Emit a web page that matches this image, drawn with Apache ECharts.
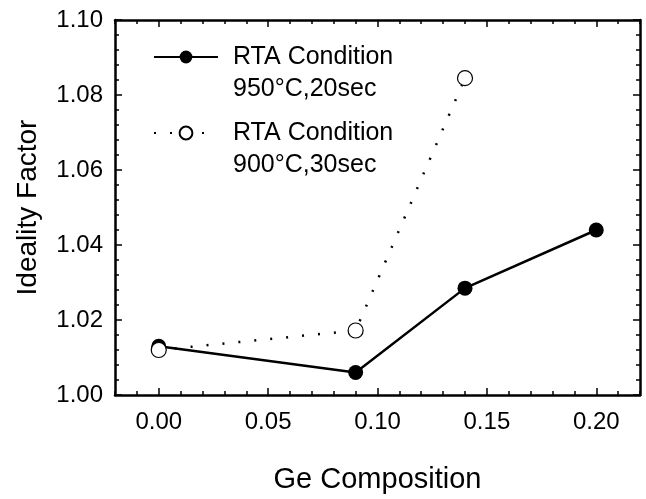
<!DOCTYPE html>
<html lang="en">
<head>
    <meta charset="UTF-8">
    <title>Ideality Factor</title>
    <script type="text/javascript" src="https://cdn.jsdelivr.net/npm/echarts@6/dist/echarts.min.js"></script>
</head>
<body style="margin:0">
<div id="chart" style="width: 646px;height: 499px"></div>
</body>
<script type="text/javascript">
    // data
    var geComp950 = [0, 0.09, 0.14, 0.20];
    var ideality950 = [1.013, 1.006, 1.0285, 1.044];
    var geComp900 = [0, 0.09, 0.14];
    var ideality900 = [1.012, 1.0172, 1.0845];
    var xMajorTicks = [0, 0.05, 0.10, 0.15, 0.20];
    var seriesNames = ['RTA Condition\n950°C,20sec', 'RTA Condition\n900°C,30sec'];

    var font = 'Liberation Sans, Arial, sans-serif';

    function pairs(xs, ys) {
        var out = [];
        for (var i = 0; i < xs.length; i++) out.push([xs[i], ys[i]]);
        return out;
    }

    // x axes: one for major ticks + labels, one for minor ticks (bottom and top)
    function xMajor(pos, withLabel) {
        return {
            type: 'value', position: pos, min: -0.02, max: 0.22,
            axisLine: {show: true, onZero: false, lineStyle: {color: '#000', width: 2.5}},
            axisTick: {show: true, inside: true, length: 7, customValues: xMajorTicks,
                lineStyle: {color: '#000', width: 1.5}},
            axisLabel: withLabel ? {
                show: true, customValues: xMajorTicks, margin: 15,
                fontSize: 24, fontFamily: font, color: '#000',
                formatter: function (v) { return v.toFixed(2); }
            } : {show: false},
            splitLine: {show: false},
            name: withLabel ? 'Ge Composition' : '',
            nameLocation: 'middle', nameGap: 70,
            nameTextStyle: {fontSize: 29, fontFamily: font, color: '#000'}
        };
    }
    function xMinor(pos) {
        return {
            type: 'value', position: pos, min: -0.02, max: 0.22, interval: 0.01,
            axisLine: {show: false},
            axisTick: {show: true, inside: true, length: 4, lineStyle: {color: '#000', width: 1.5}},
            axisLabel: {show: false},
            splitLine: {show: false}
        };
    }
    function yAxis(pos, withLabel) {
        return {
            type: 'value', position: pos, min: 1.00, max: 1.10, interval: 0.02,
            axisLine: {show: true, onZero: false, lineStyle: {color: '#000', width: 2.5}},
            axisTick: {show: true, inside: true, length: 7, lineStyle: {color: '#000', width: 1.5}},
            minorTick: {show: true, splitNumber: 5, length: 4, lineStyle: {color: '#000', width: 1.5}},
            axisLabel: withLabel ? {
                show: true, margin: 12, fontSize: 24, fontFamily: font, color: '#000',
                formatter: function (v) { return v.toFixed(2); }
            } : {show: false},
            splitLine: {show: false},
            name: withLabel ? 'Ideality Factor' : '',
            nameLocation: 'middle', nameGap: 73,
            nameTextStyle: {fontSize: 28, fontFamily: font, color: '#000'}
        };
    }

    var myChart = echarts.init(document.getElementById('chart'));
    var option = {
        backgroundColor: '#fff',
        animation: false,
        grid: {left: 115, right: 6, top: 20, bottom: 90},
        legend: {
            orient: 'vertical', left: 148, top: 4,
            itemWidth: 64, itemHeight: 16, itemGap: -20,
            data: seriesNames,
            // empty first line so the symbol sits level with "RTA Condition"
            formatter: function (name) { return '\n' + name; },
            textStyle: {fontSize: 25, lineHeight: 32, fontFamily: font, color: '#000',
                padding: [0, 0, 0, 10]}
        },
        xAxis: [xMajor('bottom', true), xMinor('bottom'), xMajor('top', false), xMinor('top')],
        yAxis: [yAxis('left', true), yAxis('right', false)],
        series: [
            {
                name: seriesNames[0], type: 'line', xAxisIndex: 0, yAxisIndex: 0,
                data: pairs(geComp950, ideality950),
                symbol: 'circle', symbolSize: 15,
                lineStyle: {color: '#000', width: 2.5},
                itemStyle: {color: '#000', borderColor: '#000', borderWidth: 0}
            },
            {
                name: seriesNames[1], type: 'line', xAxisIndex: 0, yAxisIndex: 0,
                data: pairs(geComp900, ideality900),
                symbol: 'circle', symbolSize: 15,
                lineStyle: {color: '#000', width: 2.5, type: [2, 14]},
                itemStyle: {color: '#fff', borderColor: '#000', borderWidth: 1.2}
            }
        ]
    };
    myChart.setOption(option);
</script>
</html>
